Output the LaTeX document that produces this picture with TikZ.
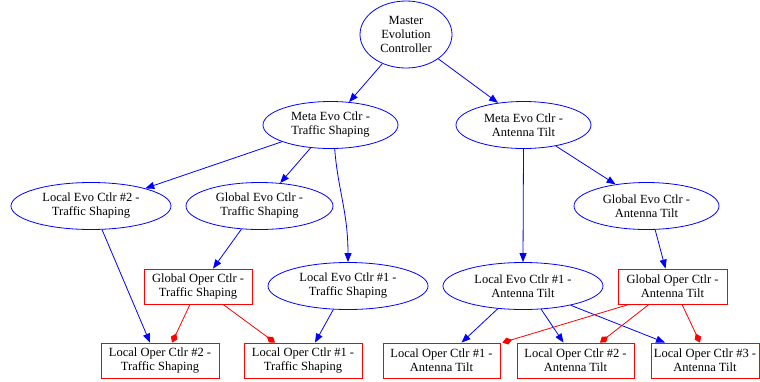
\documentclass[tikz,border=0pt]{standalone}
\usepackage{fontspec}
\setmainfont{Liberation Serif}
\usetikzlibrary{arrows.meta,calc,shapes.geometric}
\begin{document}
\begin{tikzpicture}[x=1pt,y=-1pt,
  every node/.style={font=\fontsize{12.5}{14}\selectfont, align=center, inner sep=0pt},
  evo/.style={ellipse, draw=blue, line width=0.8pt, minimum height=47pt},
  oper/.style={rectangle, draw=red, line width=0.8pt, minimum height=35pt},
  bluearrow/.style={draw=blue, line width=0.8pt, -{Triangle[length=9pt,width=7pt]}, fill=none},
  redarrow/.style={draw=red, line width=0.8pt, -{Diamond[length=10pt,width=7pt]}},
]
\useasboundingbox (0,0) rectangle (760,381);
% ellipses
\node[evo, minimum width=92pt, minimum height=67pt] (master) at (406,34.5) {Master\\Evolution\\Controller};
\node[evo, minimum width=135pt] (mts) at (330.5,125) {Meta Evo Ctlr -\\Traffic Shaping};
\node[evo, minimum width=135pt] (mat) at (523.5,125) {Meta Evo Ctlr -\\Antenna Tilt};
\node[evo, minimum width=160pt] (le2ts) at (91,206) {Local Evo Ctlr \#2 -\\Traffic Shaping};
\node[evo, minimum width=147pt] (gets) at (259.5,206) {Global Evo Ctlr -\\Traffic Shaping};
\node[evo, minimum width=145pt] (geat) at (646.5,206) {Global Evo Ctlr -\\Antenna Tilt};
\node[evo, minimum width=160pt] (le1ts) at (348,286) {Local Evo Ctlr \#1 -\\Traffic Shaping};
\node[evo, minimum width=160pt] (le1at) at (523,286) {Local Evo Ctlr \#1 -\\Antenna Tilt};
% rectangles
\node[oper, minimum width=108pt] (gots) at (198,286.5) {Global Oper Ctlr -\\Traffic Shaping};
\node[oper, minimum width=109pt] (goat) at (672.5,286.5) {Global Oper Ctlr -\\Antenna Tilt};
\node[oper, minimum width=118pt] (lo2ts) at (160,360.5) {Local Oper Ctlr \#2 -\\Traffic Shaping};
\node[oper, minimum width=118pt] (lo1ts) at (303,360.5) {Local Oper Ctlr \#1 -\\Traffic Shaping};
\node[oper, minimum width=117pt] (lo1at) at (441.5,360.5) {Local Oper Ctlr \#1 -\\Antenna Tilt};
\node[oper, minimum width=117pt] (lo2at) at (575.5,360.5) {Local Oper Ctlr \#2 -\\Antenna Tilt};
\node[oper, minimum width=108pt] (lo3at) at (705,360.5) {Local Oper Ctlr \#3 -\\Antenna Tilt};
% blue edges
\draw[bluearrow] (master.231) -- (mts.51);
\draw[bluearrow] (master.323) -- (mat.139);
\draw[bluearrow] (mts.199) -- (le2ts.18);
\draw[bluearrow] (mts.229) -- (gets.48);
\draw[bluearrow] (mts.280) .. controls +(3,40) and +(0,-50) .. (le1ts.north);
\draw[bluearrow] (mat.south) -- (le1at.north);
\draw[bluearrow] (mat.327) -- (geat.145);
\draw[bluearrow] (gets.232) -- ($(gots.north)+(15,0)$);
\draw[bluearrow] (geat.290) -- ($(goat.north)+(-7,0)$);
\draw[bluearrow] (le2ts.295) -- ($(lo2ts.north)+(-10,0)$);
\draw[bluearrow] (le1ts.238) -- ($(lo1ts.north)+(12,0)$);
\draw[bluearrow] (le1at.222) -- ($(lo1at.north)+(20,0)$);
\draw[bluearrow] (le1at.308) -- ($(lo2at.north)+(-12,0)$);
\draw[bluearrow] (le1at.338) -- ($(lo3at.north)+(-40,0)$);
% red edges
\draw[redarrow] ($(gots.south)+(-8,0)$) -- ($(lo2ts.north)+(12,0)$);
\draw[redarrow] ($(gots.south)+(25,0)$) -- ($(lo1ts.north)+(-28,0)$);
\draw[redarrow] ($(goat.south)+(-43.5,0)$) -- ($(lo1at.north east)+(2,0)$);
\draw[redarrow] ($(goat.south)+(-23.5,0)$) -- ($(lo2at.north)+(24.5,0)$);
\draw[redarrow] ($(goat.south)+(9.5,0)$) -- ($(lo3at.north)+(-5,0)$);
\end{tikzpicture}
\end{document}
